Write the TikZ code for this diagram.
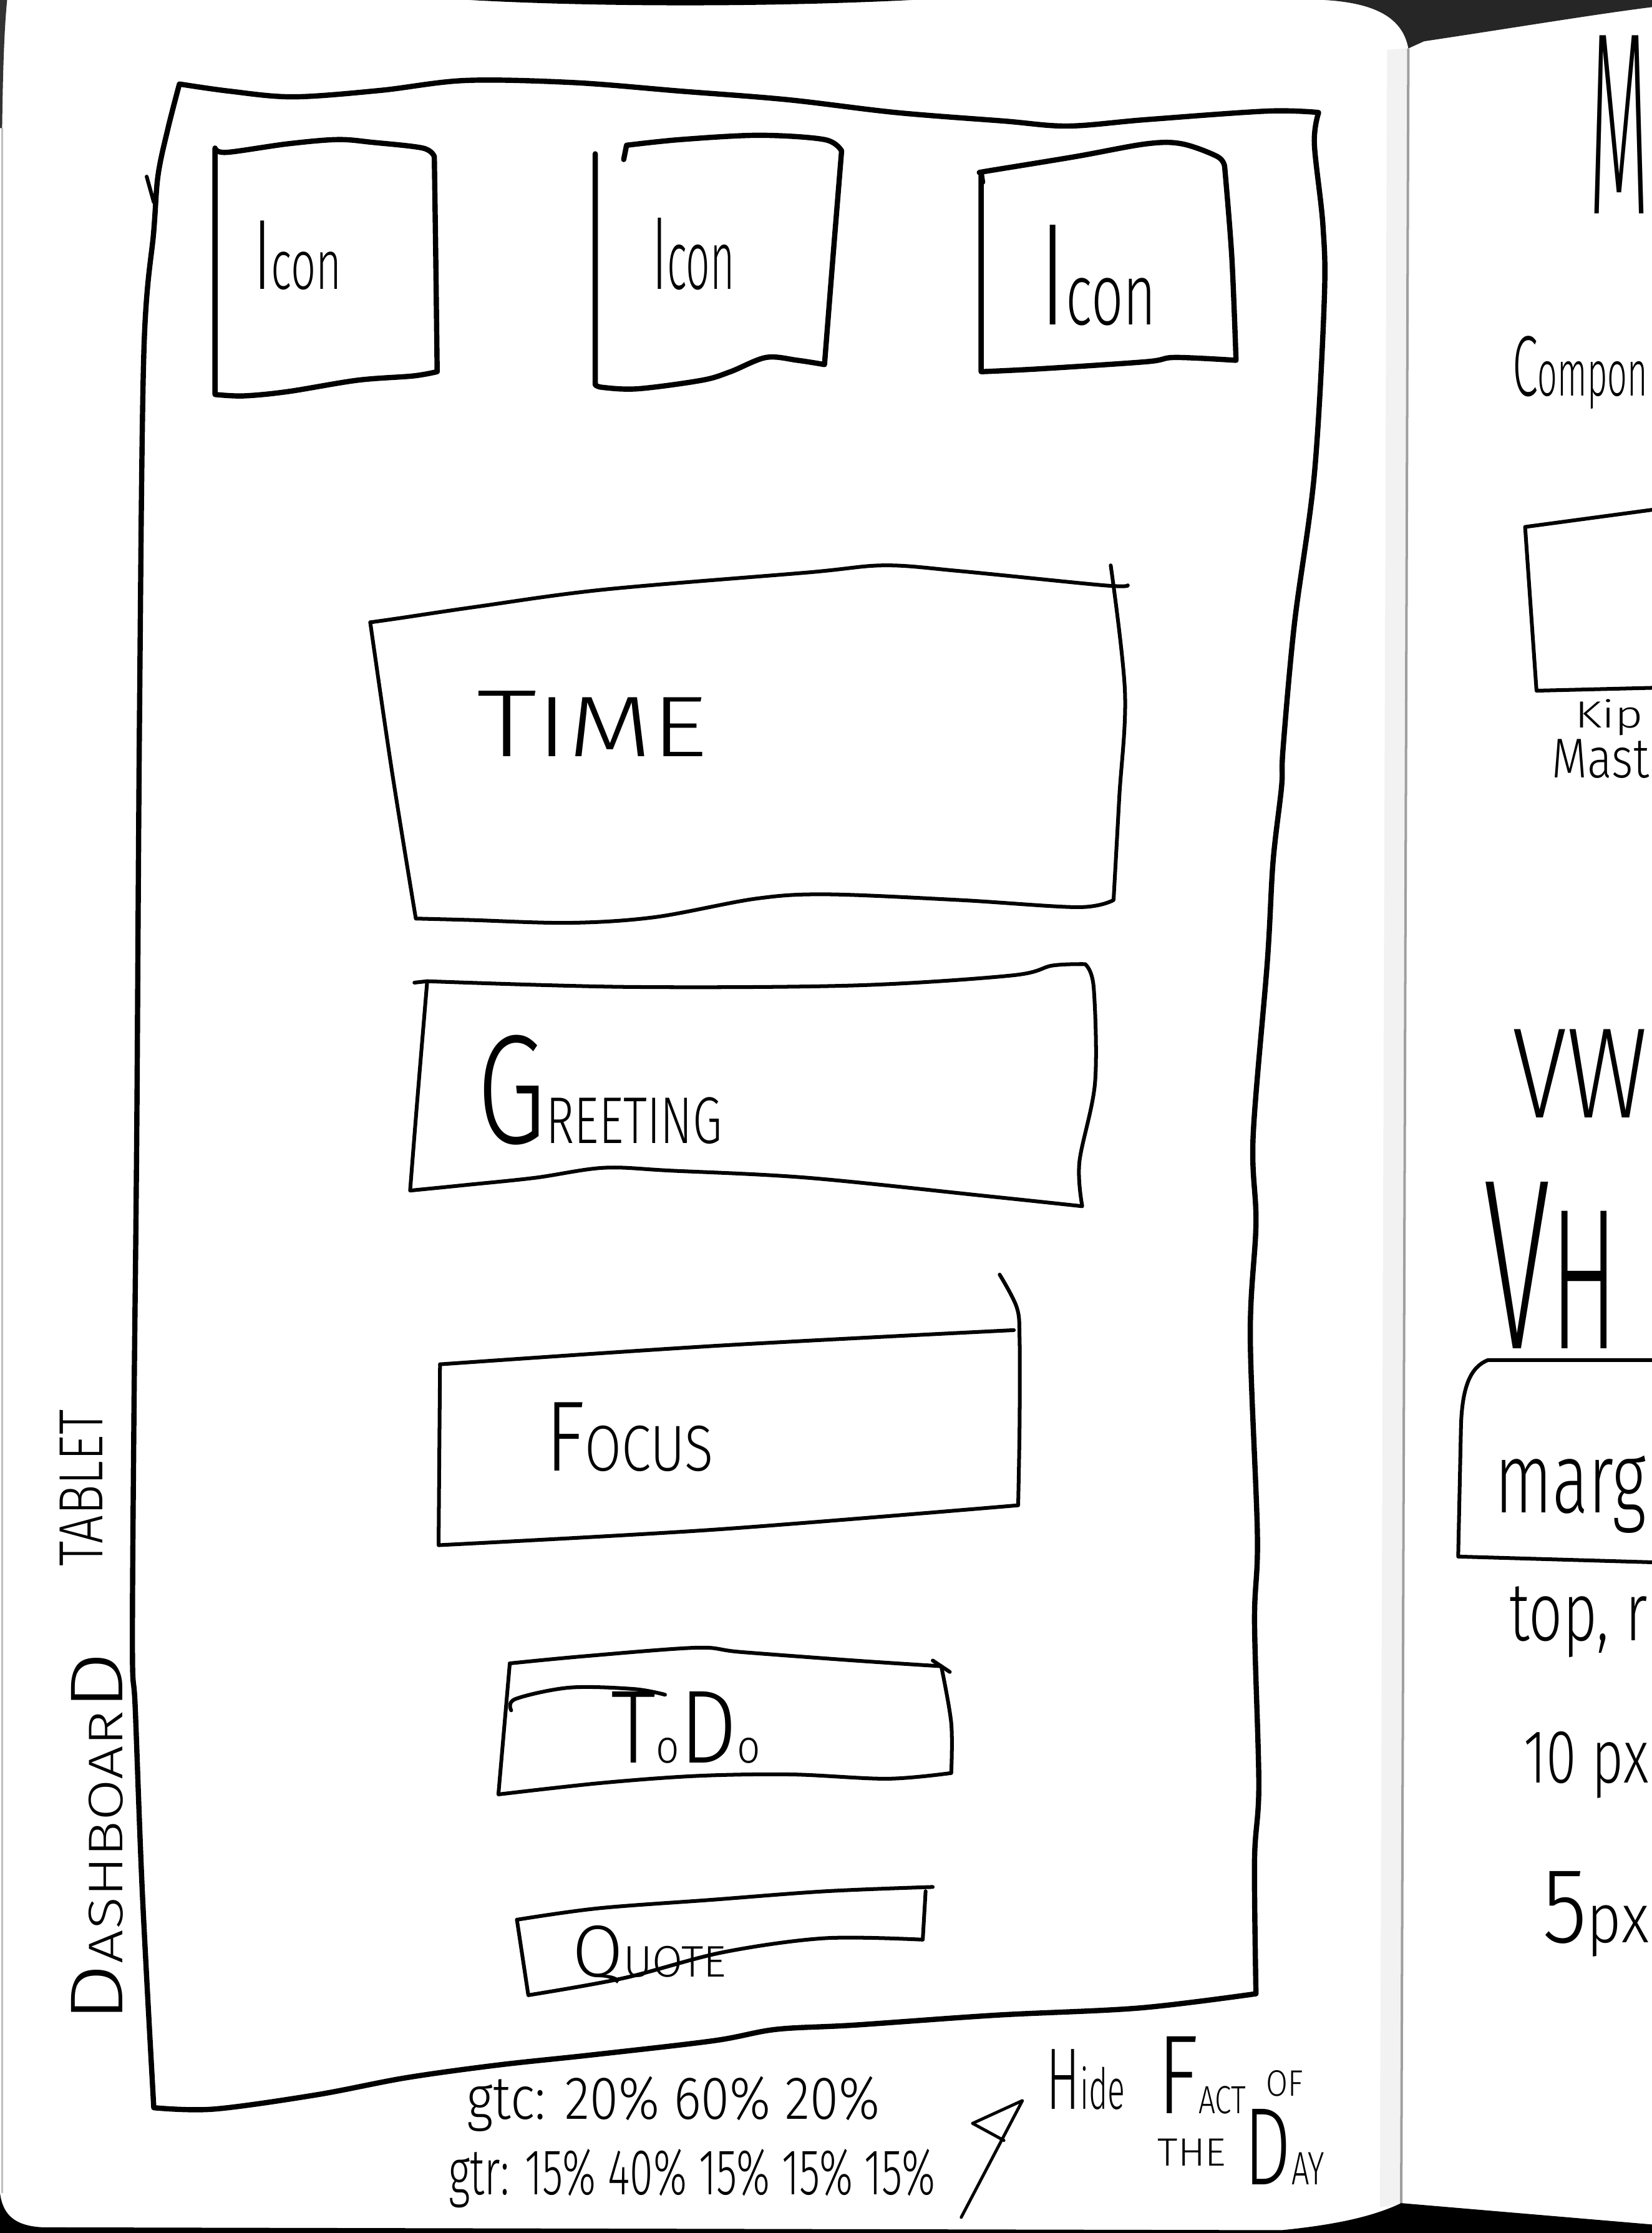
\documentclass[tikz,border=0pt]{standalone}
\usepackage{fontspec}
\setmainfont{Fira Sans}[UprightFont=* Light]
\usepackage{graphicx}
\newlength\pxu
\setlength\pxu{0.2mm}
% set a run of text at a given size
\newcommand\fsz[2]{{\fontsize{#1pt}{#1pt}\selectfont #2}}
% hand-lettered word squeezed into a width x height box (in drawing units)
\newcommand\hw[3]{\resizebox{#1\pxu}{#2\pxu}{#3}}

\begin{document}
\begin{tikzpicture}[x=0.2mm, y=-0.2mm,
  pen/.style={line width=1.5pt, line cap=round, line join=round},
  heavypen/.style={line width=2.1pt, line cap=round, line join=round},
  txt/.style={inner sep=0pt, outer sep=0pt, anchor=base west},
  sm/.style={smooth, tension=0.55}]
\useasboundingbox (0,0) rectangle (1160,1568);
\fill[white] (0,0) rectangle (1160,1568);

% ---------- notebook edges ----------
\fill[black!85] (930,0) .. controls (965,2) and (985,12) .. (989,34)
  -- (1000,29) .. controls (1060,20) and (1120,10) .. (1160,5) -- (1160,0) -- cycle;
\fill[black] (330,0) .. controls (420,5) and (540,5) .. (640,0) -- cycle;
\fill[black!80] (0,0) -- (5,0) .. controls (3,20) and (2,50) .. (1.5,90) -- (0,90) -- cycle;
\draw[gray!50, line width=0.8pt] (1.5,90) -- (1.5,1540);
\fill[gray!10] (974,35) -- (988,34) -- (983,1548) -- (969,1550) -- cycle;
\draw[gray!75, line width=1pt] (989,34) -- (984,1548);
\fill[black] (0,1540) .. controls (2,1555) and (10,1563) .. (30,1564) -- (900,1566)
  .. controls (940,1562) and (965,1556) .. (984,1547) -- (1160,1562) -- (1160,1568) -- (0,1568) -- cycle;

% ---------- tablet outline ----------
\draw[heavypen] plot[sm] coordinates {(126,59) (161,64) (206,68) (267,63.5) (327,56.5) (403,58) (478,64) (553,70) (629,79) (705,85) (750,88.5) (805,84) (890,78) (926,79)}
  -- plot[sm] coordinates {(926,79) (923,101) (929,158) (930,210) (923,333) (909,438) (901,526) (900,552) (894,605) (890,675) (880,798) (882,859) (878,938) (883,1078) (881,1139) (884,1253) (881,1306) (882,1400)}
  -- plot[sm] coordinates {(882,1400) (800,1410) (700,1415) (600,1422) (545,1425) (501,1433) (415,1443) (350,1450) (285,1459) (222,1471) (150,1481) (108,1480)}
  -- plot[sm] coordinates {(108,1480) (100,1330) (95,1200) (93,1160) (94,1000) (96,800) (98,500) (101,248) (108,162) (111,123) (118,90) (126,59)};
\draw[pen] (103,124) -- (108,142);

% ---------- icon boxes ----------
\draw[heavypen] plot[sm] coordinates {(151,104) (159,107) (202,101) (237,98) (262,100) (297,104) (305,110)}
  -- plot[sm] coordinates {(305,110) (306,180) (307,261)}
  -- plot[sm] coordinates {(307,261) (290,264) (251,267) (202,275) (171,278) (151,277)}
  -- (151,104);
\draw[heavypen] (418,108) -- (418,270) -- plot[sm] coordinates {(418,270) (423,272) (448,273) (493,267) (513,261) (538,251) (560,253) (579,256)}
  -- plot[sm] coordinates {(579,256) (585,180) (591,106)};
\draw[heavypen] (438,112) -- plot[sm] coordinates {(440,102) (478,98) (533,95) (579,98) (591,106)};
\draw[heavypen] (690,128) -- plot[sm] coordinates {(689,121) (694,120) (755,110) (805,101) (830,101) (855,110) (860,117)}
  -- plot[sm] coordinates {(860,117) (865,180) (868,253)}
  -- plot[sm] coordinates {(868,253) (825,251) (805,254) (730,259) (689,261)} -- (689,121);

\node[txt] (iconA) at (178,203) {\hw{62}{48}{\fsz{40}{I}\fsz{28}{con}}};
\node[txt] (iconB) at (458,203) {\hw{58}{50}{\fsz{40}{I}\fsz{32}{con}}};
\node[txt] (iconC) at (730,228) {\hw{82}{70}{\fsz{40}{I}\fsz{24}{con}}};

% ---------- time ----------
\draw[pen] plot[sm] coordinates {(260,437) (281,434) (335,426) (424,414) (567,402) (621,397) (674,401) (775,411) (792,411)};
\draw[pen] plot[sm] coordinates {(780,397) (790,486) (786,560) (782,632)}
  -- plot[sm] coordinates {(782,632) (757,637) (674,632) (581,628) (531,631) (460,644) (400,648) (330,646) (292,645)}
  -- plot[sm] coordinates {(292,645) (275,540) (260,437)};
\node[txt] (time) at (335,531) {\hw{162}{46}{\fsz{40}{T}\fsz{36}{IME}}};

% ---------- greeting ----------
\draw[pen] (291,690) -- plot[sm] coordinates {(300,689) (440,693) (599,692) (710,685) (739,678) (762,677)}
  -- plot[sm] coordinates {(762,677) (768,693) (769,760) (758,816) (760,847)}
  -- plot[sm] coordinates {(760,847) (694,840) (567,827) (471,822) (424,820) (376,827) (328,832) (288,836)}
  -- plot[sm] coordinates {(288,836) (293,773) (300,689)};
\node[txt] (greeting) at (335,803) {\hw{172}{76}{\fsz{40}{G}\fsz{17}{REETING}}};

% ---------- focus ----------
\draw[pen] plot[sm] coordinates {(309,958) (503,945) (712,934)};
\draw[pen] plot[sm] coordinates {(702,895) (714,918) (716,940) (716,1000) (715,1057)}
  -- plot[sm] coordinates {(715,1057) (503,1074) (308,1085)} -- (309,958);
\node[txt] (focus) at (383,1033) {\hw{118}{48}{\fsz{40}{F}\fsz{26}{OCUS}}};

% ---------- to do ----------
\draw[pen] plot[sm] coordinates {(358,1168) (410,1163) (489,1157) (520,1160) (600,1166) (661,1170)};
\draw[pen] (655,1166) -- (667,1174);
\draw[pen] plot[sm] coordinates {(661,1170) (668,1210) (668,1245)}
  -- plot[sm] coordinates {(668,1245) (623,1249) (556,1246) (490,1247) (422,1252) (350,1260)} -- (358,1168);
\draw[pen] plot[sm] coordinates {(359,1201) (362,1193) (400,1185) (445,1186) (467,1190)};
\node[txt] (todo) at (429,1238) {\hw{105}{50}{\fsz{40}{T}\fsz{18}{o}\fsz{40}{D}\fsz{18}{o}}};

% ---------- quote ----------
\draw[pen] plot[sm] coordinates {(363,1348) (420,1340) (500,1334) (580,1328) (655,1325)};
\draw[pen] (650,1328) -- (648,1362) -- plot[sm] coordinates {(648,1362) (579,1361) (507,1371) (438,1389) (371,1401)} -- (363,1348);
\node[txt] (quote) at (402,1388) {\hw{108}{36}{\fsz{40}{Q}\fsz{24}{UOTE}}};

% ---------- notes under the tablet ----------
\node[txt] (gtc) at (328,1488) {\hw{290}{30}{gtc: 20\% 60\% 20\%}};
\node[txt] (gtr) at (315,1541) {\hw{342}{32}{gtr: 15\% 40\% 15\% 15\% 15\%}};
\coordinate (starTop) at (718,1475);
\coordinate (starTail) at (675,1557);
\draw[pen, line width=1.2pt] (683,1491) -- (starTop) -- (starTail);
\draw[pen, line width=1.2pt] (683,1491) -- (705,1503);
\node[txt] (hide) at (735,1481) {\hw{55}{42}{\fsz{40}{H}\fsz{26}{ide}}};
\node[txt] (fact) at (813,1484) {\hw{62}{54}{\fsz{40}{F}\fsz{14}{ACT}}};
\node[txt] (of) at (889,1472) {\hw{26}{18}{OF}};
\node[txt] (the) at (813,1521) {\hw{48}{19}{THE}};
\node[txt] (day) at (874,1534) {\hw{56}{53}{\fsz{40}{D}\fsz{17}{AY}}};

% ---------- side label ----------
\node[txt, rotate=90] (tablet) at (72,1100) {\hw{110}{30}{TABLET}};
\node[txt, rotate=90] (dashboard) at (86,1420) {\hw{260}{36}{\fsz{40}{D}\fsz{26}{ASHBOAR}\fsz{40}{D}}};

% ---------- facing page (runs off the right edge) ----------
\node[txt] (bigM) at (1116,150) {\hw{42}{125}{M}};
\node[txt] (component) at (1062,278) {\hw{95}{42}{\fsz{40}{C}\fsz{30}{ompon}}};
\draw[pen] (1160,358) -- (1071,370) -- (1079,485) -- (1160,483);
\node[txt] (kip) at (1106,511) {\hw{48}{20}{Kip}};
\node[txt] (master) at (1090,546) {\hw{68}{27}{Mast}};
\node[txt] (vw) at (1062,785) {\hw{95}{62}{VW}};
\node[txt] (vh) at (1042,947) {\hw{94}{117}{\fsz{40}{V}\fsz{33}{H}}};
\draw[pen] (1160,955) -- (1045,955) .. controls (1032,960) and (1027,975) .. (1026,1000) -- (1024,1093) -- (1160,1097);
\node[txt] (margin) at (1050,1062) {\hw{106}{40}{marg}};
\node[txt] (topright) at (1060,1152) {\hw{97}{38}{top, r}};
\node[txt] (tenpx) at (1070,1252) {\hw{88}{36}{10 px}};
\node[txt] (fivepx) at (1083,1364) {\hw{75}{50}{\fsz{40}{5}\fsz{26}{px}}};
\end{tikzpicture}
\end{document}
